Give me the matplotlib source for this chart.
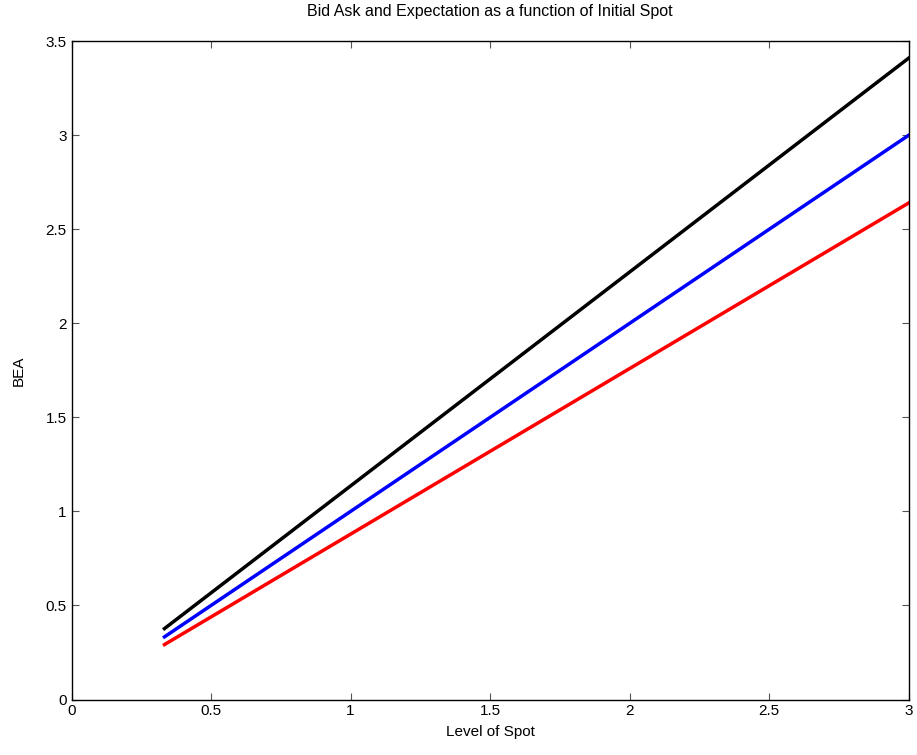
import matplotlib
matplotlib.use("Agg")
import matplotlib.pyplot as plt

plt.rcParams["font.family"] = ["Liberation Sans", "DejaVu Sans"]

# spot levels and bid / expectation / ask
SPOT = [0.333, 3.0]
ASK = [0.377, 3.41]
EXPECTATION = [0.333, 3.0]
BID = [0.292, 2.64]

fig = plt.figure(figsize=(9.17, 7.55), dpi=100)
ax = fig.add_axes([0.078, 0.0735, 0.913, 0.872])

ax.plot(SPOT, ASK, color="black", linewidth=2.5)
ax.plot(SPOT, EXPECTATION, color="blue", linewidth=2.5)
ax.plot(SPOT, BID, color="red", linewidth=2.5)

ax.set_xlim(0, 3)
ax.set_ylim(0, 3.5)
ax.set_xticks([0, 0.5, 1, 1.5, 2, 2.5, 3])
ax.set_xticklabels(["0", "0.5", "1", "1.5", "2", "2.5", "3"])
ax.set_yticks([0, 0.5, 1, 1.5, 2, 2.5, 3, 3.5])
ax.set_yticklabels(["0", "0.5", "1", "1.5", "2", "2.5", "3", "3.5"])
ax.tick_params(direction="in", top=True, right=True, labelsize=11, length=5,
               color="#555555")
for sp in ax.spines.values():
    sp.set_linewidth(1.0)

ax.set_xlabel("Level of Spot", fontsize=11, labelpad=5)
ax.set_ylabel("BEA", fontsize=11, labelpad=14)
ax.set_title("Bid Ask and Expectation as a function of Initial Spot",
             fontsize=11.5, pad=18)

plt.savefig("out.png", dpi=100)
